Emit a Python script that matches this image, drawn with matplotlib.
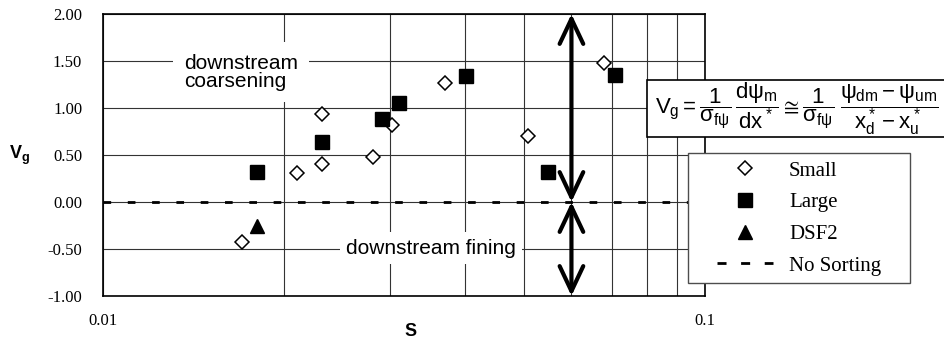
import matplotlib
matplotlib.use("Agg")
import matplotlib.pyplot as plt
from matplotlib.lines import Line2D
from matplotlib.patches import Rectangle
from matplotlib.ticker import FixedLocator, NullFormatter

plt.rcParams['font.family'] = 'Liberation Serif'
plt.rcParams['lines.scale_dashes'] = False
plt.rcParams['mathtext.fontset'] = 'custom'
plt.rcParams['mathtext.rm'] = 'Liberation Sans'
plt.rcParams['mathtext.it'] = 'Liberation Sans'
plt.rcParams['mathtext.sf'] = 'Liberation Sans'
plt.rcParams['mathtext.bf'] = 'Liberation Sans:bold'

# valores
small_s = [0.0170, 0.0210, 0.0231, 0.0231, 0.0281, 0.0302, 0.0370, 0.0508, 0.0680]
small_v = [-0.43, 0.31, 0.94, 0.40, 0.48, 0.82, 1.27, 0.70, 1.48]
large_s = [0.0180, 0.0231, 0.0291, 0.0310, 0.0401, 0.0548, 0.0709]
large_v = [0.32, 0.64, 0.88, 1.05, 1.34, 0.32, 1.35]
dsf2_s = [0.0180]
dsf2_v = [-0.25]
arrow_s = 0.06
y_ticks = [-1.0, -0.5, 0.0, 0.5, 1.0, 1.5, 2.0]
x_major = [0.01, 0.1]
x_minor = [0.02, 0.03, 0.04, 0.05, 0.06, 0.07, 0.08, 0.09]

fig = plt.figure(figsize=(9.44, 3.42), dpi=100)
ax = fig.add_axes([103/944, 1 - 296/342, 602/944, 282/342])

ax.set_xscale('log')
ax.set_xlim(0.01, 0.1)
ax.set_ylim(-1, 2)
ax.xaxis.set_major_locator(FixedLocator(x_major))
ax.xaxis.set_minor_locator(FixedLocator(x_minor))
ax.xaxis.set_minor_formatter(NullFormatter())
ax.set_xticklabels(['0.01', '0.1'])
ax.set_yticks(y_ticks)
ax.set_yticklabels([f'{v:.2f}' for v in y_ticks])
ax.tick_params(axis='both', which='both', length=0, labelsize=12)
ax.tick_params(axis='y', pad=15)
ax.tick_params(axis='x', pad=12)

ax.grid(True, which='both', color='0.2', lw=0.8)
ax.set_axisbelow(True)
for sp in ax.spines.values():
    sp.set_linewidth(1.2)
    sp.set_color('black')

# linea de no sorting
ax.axhline(0, color='black', lw=2, dashes=(5.5, 12), solid_capstyle='butt', zorder=2)

ax.plot(small_s, small_v, 'D', ms=7, mfc='white', mec='black', mew=1.1, ls='none', zorder=4)
ax.plot(large_s, large_v, 's', ms=9.5, mfc='black', mec='black', ls='none', zorder=4)
ax.plot(dsf2_s, dsf2_v, '^', ms=10, mfc='black', mec='black', ls='none', zorder=4)

# flechas dobles
arr = dict(arrowstyle='<->,head_length=1.8,head_width=0.85', mutation_scale=10,
           lw=3, color='black', shrinkA=0, shrinkB=0)
ax.annotate('', xy=(arrow_s, 2.0), xytext=(arrow_s, 0.0), arrowprops=arr,
            annotation_clip=False, zorder=5)
ax.annotate('', xy=(arrow_s, -1.0), xytext=(arrow_s, 0.0), arrowprops=arr,
            annotation_clip=False, zorder=5)

ax.text(0.01363, 1.38, 'downstream\ncoarsening', family='Liberation Sans', fontsize=15,
        ha='left', va='center', linespacing=0.92, zorder=3,
        bbox=dict(boxstyle='square,pad=0.55', fc='white', ec='none'))
ax.text(0.0351, -0.49, 'downstream fining', family='Liberation Sans', fontsize=15,
        ha='center', va='center', zorder=3,
        bbox=dict(boxstyle='square,pad=0.3', fc='white', ec='none'))

ax.set_ylabel(r'$\mathbf{V_g}$', fontsize=13, rotation=0, va='center', ha='center')
ax.yaxis.set_label_coords(-0.138, 0.5)
ax.set_xlabel('S', family='Liberation Sans', fontsize=13, fontweight='bold')
ax.xaxis.set_label_coords(0.51, -0.095)

# caja de la ecuacion
fig.add_artist(Rectangle((647/944, 1 - 137/342), 0.4, 57/342, transform=fig.transFigure,
                         fc='white', ec='black', lw=1.2, zorder=3))
eq = (r'$V_g = \dfrac{1}{\sigma_{f\psi}}\,\dfrac{d\psi_m}{dx^*} \cong '
      r'\dfrac{1}{\sigma_{f\psi}}\;\dfrac{\psi_{dm}-\psi_{um}}{x_d^* - x_u^*}$')
fig.text(655/944, 1 - 109/342, eq, fontsize=16, ha='left', va='center', zorder=4)

# leyenda
fig.add_artist(Rectangle((688/944, 1 - 283/342), 222/944, 130/342, transform=fig.transFigure,
                         fc='white', ec='0.3', lw=1.0, zorder=3))
handles = [
    Line2D([], [], marker='D', ms=7, mfc='white', mec='black', mew=1.1, ls='none'),
    Line2D([], [], marker='s', ms=9.5, mfc='black', mec='black', ls='none'),
    Line2D([], [], marker='^', ms=10, mfc='black', mec='black', ls='none'),
    Line2D([], [], color='black', lw=2, dashes=(6.5, 10.5)),
]
leg = fig.legend(handles, ['Small', 'Large', 'DSF2', 'No Sorting'], loc='upper left',
                 bbox_to_anchor=(717/944, 1 - 161/342), frameon=False, borderpad=0,
                 borderaxespad=0, fontsize=15, handlelength=2.7, handletextpad=0.75,
                 labelspacing=0.58)
leg.set_zorder(5)

fig.savefig('out.png', dpi=100)
